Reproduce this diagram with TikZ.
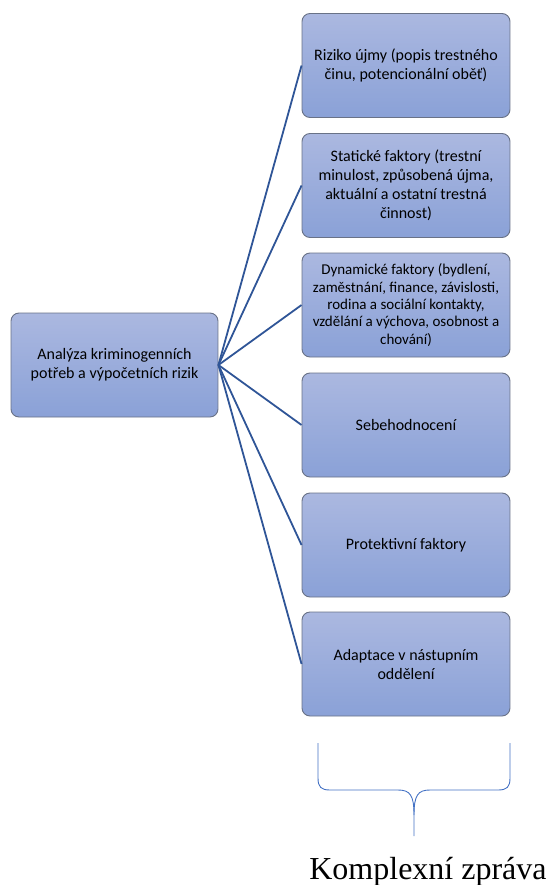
\documentclass[tikz,border=0pt]{standalone}
\usepackage{fontspec}
\setmainfont{Carlito}
\newfontfamily\serifzprava{Liberation Serif}
\usepackage{xcolor}
\usepackage{tikz}
\usetikzlibrary{positioning,calc}
\definecolor{boxtop}{RGB}{171,184,224}
\definecolor{boxbottom}{RGB}{138,161,215}
\definecolor{boxborder}{RGB}{105,114,135}
\definecolor{linkblue}{RGB}{47,85,151}
\definecolor{braceblue}{RGB}{68,114,196}

\begin{document}
\begin{tikzpicture}[x=1pt, y=-1pt]
    \tikzstyle{faktor} = [rectangle, rounded corners=8pt, minimum width=208pt, minimum height=104pt, inner sep=0pt, align=center, draw=boxborder, line width=0.9pt, top color=boxtop, bottom color=boxbottom, font=\fontsize{16}{19}\selectfont]
    \tikzstyle{analyza} = [faktor, minimum width=207pt]
    \tikzstyle{spoj} = [draw=linkblue, line width=1.8pt]
    \useasboundingbox (0,0) rectangle (547,885);

    % Main analysis box
    \node [analyza] (analyza) at (114.5,365) {Analýza kriminogenních\\potřeb a výpočetních rizik};

    % Factor boxes
    \node [faktor] (riziko) at (406,65.5) {Riziko újmy (popis trestného\\činu, potencionální oběť)};
    \node [faktor] (staticke) at (406,185.5) {Statické faktory (trestní\\minulost, způsobená újma,\\aktuální a ostatní trestná\\činnost)};
    \node [faktor, font=\fontsize{15}{17.3}\selectfont] (dynamicke) at (406,305) {Dynamické faktory (bydlení,\\zaměstnání, finance, závislosti,\\rodina a sociální kontakty,\\vzdělání a výchova, osobnost a\\chování)};
    \node [faktor] (sebehod) at (406,425) {Sebehodnocení};
    \node [faktor] (protekt) at (406,545) {Protektivní faktory};
    \node [faktor] (adaptace) at (406,664) {Adaptace v nástupním\\oddělení};

    % Links
    \draw [spoj] (analyza.east) -- (riziko.west);
    \draw [spoj] (analyza.east) -- (staticke.west);
    \draw [spoj] (analyza.east) -- (dynamicke.west);
    \draw [spoj] (analyza.east) -- (sebehod.west);
    \draw [spoj] (analyza.east) -- (protekt.west);
    \draw [spoj] (analyza.east) -- (adaptace.west);

    % Brace and report
    \coordinate (hrot) at (414,836);
    \draw [braceblue, line width=0.9pt] (318,743) -- (318,778) .. controls (318,787) and (321,790) .. (330,790) -- (398,790) .. controls (410,790) and (414,795) .. (414,815) -- (hrot);
    \draw [braceblue, line width=0.9pt] (510,743) -- (510,778) .. controls (510,787) and (507,790) .. (498,790) -- (430,790) .. controls (418,790) and (414,795) .. (414,815);
    \node [anchor=base, inner sep=0pt, font=\serifzprava\fontsize{32}{36}\selectfont] (zprava) at (428,879) {Komplexní zpráva};
\end{tikzpicture}
\end{document}
